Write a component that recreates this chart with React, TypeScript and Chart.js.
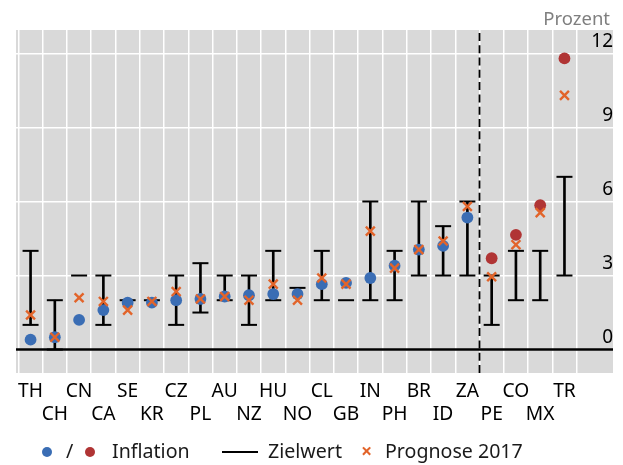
import React, { useEffect, useRef } from 'react';
import { Chart, registerables } from 'chart.js';

Chart.register(...registerables);

// ---- data ----
const categories = ['TH', 'CH', 'CN', 'CA', 'SE', 'KR', 'CZ', 'PL', 'AU', 'NZ', 'HU', 'NO', 'CL', 'GB', 'IN', 'PH', 'BR', 'ID', 'ZA', 'PE', 'CO', 'MX', 'TR'];
const inflation = [0.4, 0.5, 1.2, 1.6, 1.9, 1.9, 2.0, 2.05, 2.15, 2.2, 2.25, 2.25, 2.65, 2.7, 2.9, 3.4, 4.05, 4.2, 5.35, 3.7, 4.65, 5.85, 11.8];
const forecast2017 = [1.4, 0.5, 2.1, 1.95, 1.6, 1.95, 2.35, 2.05, 2.15, 2.0, 2.65, 2.0, 2.9, 2.65, 4.8, 3.3, 4.05, 4.4, 5.8, 2.95, 4.25, 5.55, 10.3];
const targetLow: (number | null)[] = [1, 0, null, 1, null, null, 1, 1.5, 2, 1, 2, null, 2, null, 2, 2, 3, 3, 3, 1, 2, 2, 3];
const targetHigh = [4, 2, 3, 3, 2, 2, 3, 3.5, 3, 3, 4, 2.5, 4, 2, 6, 4, 6, 5, 6, 3, 4, 4, 7];
const highlightFrom = 19; // PE, CO, MX, TR shown in red
const separatorAfter = 18.5; // between ZA and PE
const yTicks = [0, 3, 6, 9, 12];
const yMin = -0.95;
const yMax = 12.95;
const xMin = -0.6;
const xMax = 24;

const FONT = "'Noto Sans', 'Open Sans', sans-serif";
const BLUE = '#3a6db4';
const RED = '#b03434';
const ORANGE = '#e2642a';

const bgPlugin = {
  id: 'plotBg',
  beforeDraw(chart: any) {
    const { ctx, chartArea: a } = chart;
    ctx.save();
    ctx.fillStyle = '#d9d9d9';
    ctx.fillRect(a.left, a.top, a.right - a.left, a.bottom - a.top);
    ctx.restore();
  },
};

export default function App() {
  const ref = useRef<HTMLCanvasElement | null>(null);

  useEffect(() => {
    document.body.style.margin = '0';
    if (!ref.current) return;
    const idx = categories.map((_, i) => i);
    const caps: { x: number; y: number }[] = [];
    idx.forEach((i) => {
      if (targetLow[i] !== null) caps.push({ x: i, y: targetLow[i] as number });
      caps.push({ x: i, y: targetHigh[i] });
    });
    const ranges = idx
      .filter((i) => targetLow[i] !== null)
      .map((i) => ({ x: i, y: [targetLow[i] as number, targetHigh[i]] }));

    const chart = new Chart(ref.current, {
      type: 'scatter',
      data: {
        datasets: [
          {
            type: 'scatter',
            label: 'Prognose 2017',
            data: forecast2017.map((v, i) => ({ x: i, y: v })),
            pointStyle: 'crossRot',
            pointRadius: 6.3,
            pointBorderWidth: 2.4,
            pointBorderColor: ORANGE,
            pointBackgroundColor: ORANGE,
            order: 0,
          },
          {
            type: 'scatter',
            label: 'Inflation',
            data: inflation.map((v, i) => ({ x: i, y: v })),
            pointStyle: 'circle',
            pointRadius: 5.9,
            pointBorderWidth: 0,
            pointBackgroundColor: inflation.map((_, i) => (i >= highlightFrom ? RED : BLUE)),
            order: 1,
          },
          {
            type: 'scatter',
            label: 'Zielwert (Grenzen)',
            data: caps,
            pointStyle: 'line',
            pointRadius: 8,
            pointBorderWidth: 2,
            pointBorderColor: '#000',
            order: 2,
          },
          {
            type: 'bar',
            label: 'Zielwert',
            data: ranges as any,
            backgroundColor: '#000',
            barThickness: 2,
            borderWidth: 0,
            order: 3,
          },
          {
            type: 'line',
            label: 'Trennlinie',
            data: [
              { x: separatorAfter, y: yMin },
              { x: separatorAfter, y: yMax },
            ],
            borderColor: '#000',
            borderWidth: 1.8,
            borderDash: [8, 4.3],
            pointRadius: 0,
            order: 4,
          },
          {
            type: 'line',
            label: 'Null',
            data: [
              { x: xMin, y: 0 },
              { x: xMax, y: 0 },
            ],
            borderColor: '#000',
            borderWidth: 2.4,
            pointRadius: 0,
            order: 5,
          },
        ] as any,
      },
      options: {
        animation: false,
        responsive: false,
        devicePixelRatio: 1,
        events: [],
        layout: { padding: { left: 16, top: 30, right: 8, bottom: 32 } },
        plugins: {
          legend: { display: false },
          tooltip: { enabled: false },
          title: { display: false },
        },
        scales: {
          x: {
            type: 'linear',
            min: xMin,
            max: xMax,
            offset: false,
            afterBuildTicks: (s: any) => {
              s.ticks = categories.map((_, i) => ({ value: i }));
            },
            grid: { offset: true, color: '#ffffff', lineWidth: 1.5, drawTicks: false },
            border: { display: false },
            ticks: {
              autoSkip: false,
              maxRotation: 0,
              minRotation: 0,
              padding: 7,
              color: '#000',
              font: { family: FONT, size: 19.2, lineHeight: '23px' },
              callback: (v: any) => {
                const i = Math.round(Number(v));
                const c = categories[i] ?? '';
                return i % 2 === 0 ? [c, ''] : ['', c];
              },
            },
          },
          y: {
            type: 'linear',
            position: 'right',
            min: yMin,
            max: yMax,
            afterBuildTicks: (s: any) => {
              s.ticks = yTicks.map((v) => ({ value: v }));
            },
            grid: { color: '#ffffff', lineWidth: 1.5, drawTicks: false },
            border: { display: false },
            ticks: {
              mirror: true,
              padding: 0,
              labelOffset: -12,
              color: '#000',
              font: { family: FONT, size: 19 },
              callback: (v: any) => String(v),
            },
          },
        },
      },
      plugins: [bgPlugin],
    });
    return () => chart.destroy();
  }, []);

  const legendText: React.CSSProperties = {
    position: 'absolute',
    top: 0,
    whiteSpace: 'nowrap',
  };
  const dot = (color: string, left: number): React.CSSProperties => ({
    position: 'absolute',
    left,
    top: 6,
    width: 10,
    height: 10,
    borderRadius: '50%',
    background: color,
  });

  return (
    <div style={{ position: 'relative', width: 623, height: 465, fontFamily: FONT }}>
      <canvas ref={ref} width={623} height={465} style={{ display: 'block' }} />
      <div
        style={{
          position: 'absolute',
          right: 13,
          top: 8,
          fontSize: 18.5,
          lineHeight: '20px',
          color: '#7f7f7f',
        }}
      >
        Prozent
      </div>
      <div
        style={{
          position: 'absolute',
          left: 0,
          top: 441,
          width: 623,
          height: 22,
          fontSize: 19.6,
          lineHeight: '20px',
          color: '#1a1a1a',
        }}
      >
        <span style={dot(BLUE, 42)} />
        <span style={{ ...legendText, left: 66 }}>/</span>
        <span style={dot(RED, 85)} />
        <span style={{ ...legendText, left: 112 }}>Inflation</span>
        <span style={{ position: 'absolute', left: 222, top: 10, width: 36, height: 2, background: '#000' }} />
        <span style={{ ...legendText, left: 268 }}>Zielwert</span>
        <span style={{ ...legendText, left: 361, color: ORANGE, fontWeight: 'bold' }}>×</span>
        <span style={{ ...legendText, left: 385 }}>Prognose 2017</span>
      </div>
    </div>
  );
}
